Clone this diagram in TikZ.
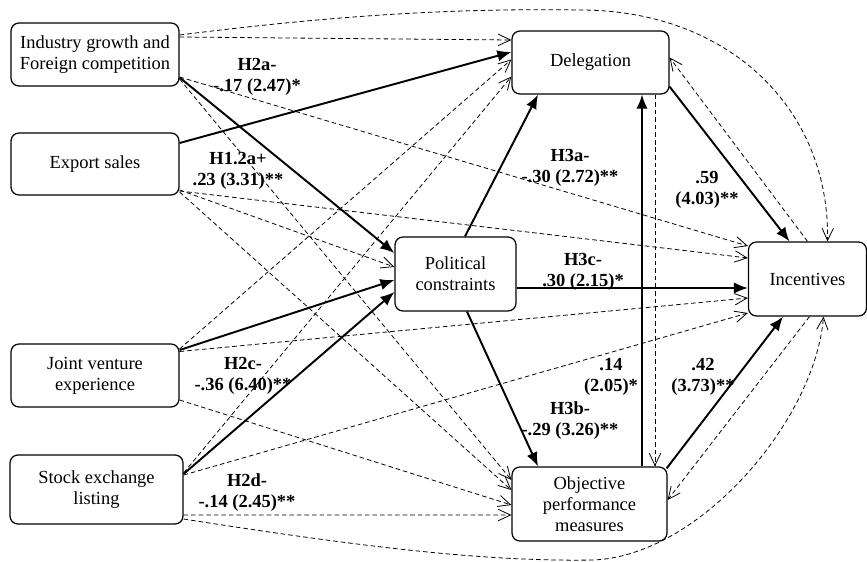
\documentclass[tikz,border=0pt]{standalone}
\usepackage{fontspec}
\setmainfont{Liberation Serif}
\usetikzlibrary{calc,arrows.meta}

\begin{document}
\begin{tikzpicture}[x=0.02cm, y=-0.02cm,
  box/.style={draw, rounded corners=4.5pt, line width=0.7pt, align=center, inner sep=0pt,
    font=\fontsize{10.5}{12}\selectfont},
  sol/.style={line width=1.1pt, -{Latex[length=8pt,width=6.5pt]}},
  dsh/.style={line width=0.45pt, dash pattern=on 2.6pt off 1.7pt,
    -{Straight Barb[length=7pt,width=6.5pt]}},
  lab/.style={align=center, inner sep=0pt, font=\bfseries\fontsize{10.5}{12}\selectfont}]
  \useasboundingbox (0,0) rectangle (867,562);

  % Boxes
  \node[box, minimum width=3.36cm, minimum height=1.26cm] (ind) at (95,54.5) {Industry growth and\\Foreign competition};
  \node[box, minimum width=3.36cm, minimum height=1.24cm] (exp) at (95,164) {Export sales};
  \node[box, minimum width=3.36cm, minimum height=1.26cm] (jv) at (95,375.5) {Joint venture\\experience};
  \node[box, minimum width=3.46cm, minimum height=1.38cm] (stock) at (96.5,489.5) {Stock exchange\\listing};
  \node[box, minimum width=3.14cm, minimum height=1.26cm] (del) at (590.5,62.5) {Delegation};
  \node[box, minimum width=2.42cm, minimum height=1.48cm] (pol) at (455.5,274) {Political\\constraints};
  \node[box, minimum width=2.36cm, minimum height=1.48cm] (inc) at (807.5,279) {Incentives};
  \node[box, minimum width=3.10cm, minimum height=1.48cm] (obj) at (589.5,504) {Objective\\performance\\measures};

  % Curve points
  \coordinate (topmid) at (580,10);
  \coordinate (botmid) at (593,560);

  % Controls (dashed)
  \draw[dsh] ($(ind.east)+(0,-17.5)$) -- ($(del.west)+(0,-22.5)$);
  \draw[dsh] ($(ind.east)+(0,-19.5)$) .. controls (330,16) and (450,8) .. (topmid)
    .. controls (730,10) and (830,110) .. ($(inc.north)+(20,0)$);
  \draw[dsh] ($(ind.east)+(0,22.5)$) -- ($(inc.west)+(0,-33)$);
  \draw[dsh] ($(ind.east)+(0,24.5)$) -- ($(obj.west)+(0,-24)$);
  \draw[dsh] ($(exp.east)+(0,26)$) -- ($(pol.west)+(0,-7)$);
  \draw[dsh] ($(exp.east)+(0,27)$) -- ($(inc.west)+(0,-21)$);
  \draw[dsh] ($(exp.east)+(0,28)$) -- ($(obj.west)+(0,-14)$);
  \draw[dsh] ($(jv.east)+(0,-26.5)$) -- ($(del.west)+(0,-3)$);
  \draw[dsh] ($(jv.east)+(0,-24)$) -- ($(inc.west)+(0,19)$);
  \draw[dsh] ($(jv.east)+(0,24.5)$) -- ($(obj.west)+(0,1)$);
  \draw[dsh] ($(stock.east)+(0,-16.5)$) -- ($(del.west)+(0,14)$);
  \draw[dsh] ($(stock.east)+(0,-14.5)$) -- ($(inc.west)+(0,34)$);
  \draw[dsh] ($(stock.east)+(0,25.5)$) -- ($(obj.west)+(0,11)$);
  \draw[dsh] ($(stock.east)+(0,29.5)$) .. controls (350,545) and (480,562) .. (botmid)
    .. controls (700,556) and (815,420) .. ($(inc.south)+(16,0)$);
  \draw[dsh] ($(del.south)+(64.5,0)$) -- ($(obj.north)+(65.5,0)$);
  \draw[dsh] (inc.north) -- ($(del.east)+(0,-5)$);
  \draw[dsh] ($(inc.south)+(2,0)$) -- ($(obj.east)+(0,-4)$);

  % Paths (solid)
  \draw[sol] ($(exp.east)+(0,-21)$) -- ($(del.west)+(0,-10.5)$);
  \draw[sol] ($(ind.east)+(0,23)$) -- ($(pol.west)+(0,-21)$);
  \draw[sol] ($(jv.east)+(0,-25.5)$) -- ($(pol.west)+(0,6)$);
  \draw[sol] ($(stock.east)+(0,-15.5)$) -- ($(pol.west)+(0,18)$);
  \draw[sol] ($(pol.north)+(9.5,0)$) -- ($(del.south)+(-52.5,0)$);
  \draw[sol] ($(pol.east)+(0,14)$) -- ($(inc.west)+(0,9)$);
  \draw[sol] ($(pol.south)+(11.5,0)$) -- ($(obj.north)+(-51.5,0)$);
  \draw[sol] ($(del.south east)+(0,-8)$) -- ($(inc.north)+(-18,0)$);
  \draw[sol] ($(obj.north east)+(-1,2)$) -- ($(inc.south)+(-24.5,0)$);
  \draw[sol] ($(obj.north)+(52.5,0)$) -- ($(del.south)+(51.5,0)$);

  % Estimates
  \node[lab] (h2a) at (257,76.5) {H2a-\\-.17 (2.47)*};
  \node[lab] (h12a) at (238,170.5) {H1.2a+\\.23 (3.31)**};
  \node[lab] (h3a) at (570,167.5) {H3a-\\-.30 (2.72)**};
  \node[lab] (e59) at (707,189.5) {.59\\(4.03)**};
  \node[lab] (h3c) at (583,272) {H3c-\\.30 (2.15)*};
  \node[lab] (e14) at (611,376.5) {.14\\(2.05)*};
  \node[lab] (e42) at (703,376.5) {.42\\(3.73)**};
  \node[lab] (h3b) at (570,420.5) {H3b-\\-.29 (3.26)**};
  \node[lab] (h2c) at (243,375.5) {H2c-\\-.36 (6.40)**};
  \node[lab] (h2d) at (247,492.5) {H2d-\\-.14 (2.45)**};
\end{tikzpicture}
\end{document}
